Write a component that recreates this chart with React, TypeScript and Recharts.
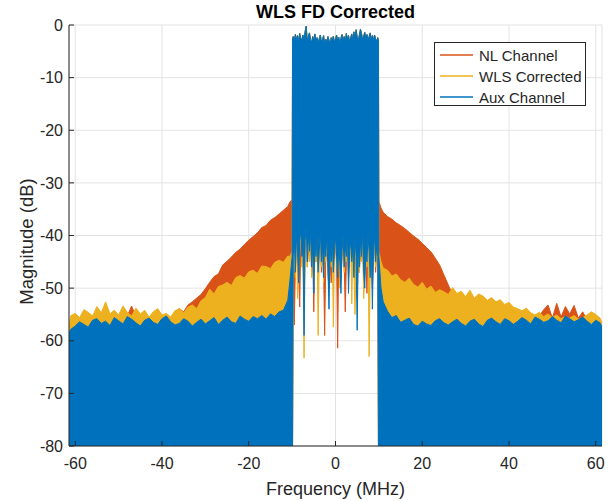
import { ComposedChart, Area, XAxis, YAxis, CartesianGrid } from "recharts";

const FONT = "'Liberation Sans', Arial, Helvetica, sans-serif";
const INK = "#262626";

// frequency grid (MHz): outer left, occupied band, outer right
const leftFreq = [
  -61.44, -61, -60,
  -59, -58, -57, -56, -55, -54, -53, -52, -51, -50,
  -49, -48, -47, -46, -45, -44, -43, -42, -41, -40,
  -39, -38, -37, -36, -35, -34, -33, -32, -31, -30,
  -29, -28, -27, -26, -25, -24, -23, -22, -21, -20,
  -19, -18, -17, -16, -15, -14, -13, -12, -11,
  -10.5, -10,
];

const bandFreq = [
  -9.9,
  -9.75, -9.5, -9.25, -9, -8.75, -8.5, -8.25, -8,
  -7.75, -7.5, -7.25, -7, -6.75, -6.5, -6.25, -6,
  -5.75, -5.5, -5.25, -5, -4.75, -4.5, -4.25, -4,
  -3.75, -3.5, -3.25, -3, -2.75, -2.5, -2.25, -2,
  -1.75, -1.5, -1.25, -1, -0.75, -0.5, -0.25, 0,
  0.25, 0.5, 0.75, 1, 1.25, 1.5, 1.75, 2,
  2.25, 2.5, 2.75, 3, 3.25, 3.5, 3.75, 4,
  4.25, 4.5, 4.75, 5, 5.25, 5.5, 5.75, 6,
  6.25, 6.5, 6.75, 7, 7.25, 7.5, 7.75, 8,
  8.25, 8.5, 8.75, 9, 9.25, 9.5, 9.75,
  9.9,
];

const rightFreq = [
  10, 10.5, 11,
  12, 13, 14, 15, 16, 17, 18, 19, 20, 21,
  22, 23, 24, 25, 26, 27, 28, 29, 30, 31,
  32, 33, 34, 35, 36, 37, 38, 39, 40, 41,
  42, 43, 44, 45, 46, 47, 48, 49, 50, 51,
  52, 53, 54, 55, 56, 57, 58, 59, 60, 61,
  61.44,
];

// peak magnitude (dB) outside the band
const nlLeft = [
  -58, -56.2, -55.8,
  -56.3, -55.1, -55.6, -56, -54.7, -55.4, -54.2, -55.7, -55.2, -55.9,
  -54.6, -55.3, -53.4, -55.5, -55.8, -54.9, -56.1, -55.2, -54, -55.4,
  -55.9, -56.2, -54.6, -53.9, -54.5, -53.2, -52.6, -51.9, -51.2, -50.1,
  -48.9, -47.8, -47.3, -45.6, -44.9, -44.1, -43.2, -42.6, -41.7, -40.9,
  -40.2, -39.5, -38.5, -38.1, -37.1, -36.6, -35.9, -35.2, -34.5,
  -33.6, -33.2,
];
const wlsLeft = [
  -57, -55.2, -54.8,
  -55.6, -54.1, -54.6, -55.3, -53.5, -54.7, -52.6, -54.9, -54.2, -55.1,
  -53.4, -54.6, -55.3, -53.8, -54.9, -54.2, -55.5, -54.5, -53.9, -55.1,
  -54.8, -55.5, -54.3, -53.9, -54.7, -53.6, -53.2, -53.9, -52.4, -51.8,
  -50.2, -51.1, -49.7, -49.4, -48.9, -49.5, -48, -47.6, -48.1, -46.9,
  -46.6, -47.2, -45.8, -45.9, -46.3, -45.1, -44.7, -45.1, -43.9,
  -44, -43,
];
const auxLeft = [
  -58.5, -57.8, -57.2,
  -56.4, -56.9, -57.4, -56.1, -55.8, -56.7, -56.3, -57.1, -55.6, -56.2,
  -56.8, -55.4, -55.9, -56.6, -57.2, -56.1, -55.7, -56.5, -56.9, -55.8,
  -55.3, -56.4, -57, -56.7, -55.8, -56.3, -57.2, -56.5, -55.9, -56.8,
  -56.2, -55.6, -56.9, -56.1, -55.5, -56.4, -56.7, -55.3, -55.9, -56.3,
  -55.4, -55.8, -55.2, -55.9, -54.9, -55.4, -54.5, -54.2, -52.3,
  -48.5, -44,
];

const nlRight = [
  -33.5, -34.8, -35.6,
  -36.4, -36.9, -37.6, -38.1, -38.7, -39.4, -40.1, -40.7, -41.5, -42.3,
  -43.1, -44.3, -45.6, -47.5, -49.4, -51.2, -52.1, -51.5, -52.6, -52.2,
  -52.5, -53.1, -52.7, -53.4, -53, -53.8, -53.5, -54.3, -53.9, -54.6,
  -55, -54.5, -55.4, -55.1, -55.7, -55.3, -54.1, -53.2, -55.7, -52.9,
  -55.5, -53.5, -54.9, -53.3, -55.7, -54.5, -56.1, -55.3, -56, -56.5,
  -57,
];
const wlsRight = [
  -43, -45, -46.2,
  -46.6, -47.7, -47.3, -48.4, -48.9, -48.1, -49.3, -49.8, -48.9, -50.2,
  -49.6, -50.8, -50.3, -50.7, -51.2, -49.9, -51, -50.6, -51.6, -50.4,
  -51.9, -51.1, -51.5, -52.3, -51.8, -52.6, -52.2, -53.1, -52.7, -53.6,
  -53.9, -54.3, -53.8, -54.7, -55.1, -54.6, -55.4, -54.9, -55.6, -55.1,
  -55.8, -55.4, -55.7, -55.2, -55.9, -55.6, -55.1, -54.5, -55, -55.7,
  -56.6,
];
const auxRight = [
  -44, -50, -52.6,
  -54.4, -55.6, -55.2, -56.5, -56.1, -55.7, -56.9, -57.2, -56.3, -56.8,
  -57.1, -56.2, -55.8, -56.6, -57, -56.4, -55.9, -56.7, -57.2, -56.3,
  -55.9, -56.8, -57.3, -56.1, -55.7, -56.4, -56.9, -55.8, -56.2, -56.9,
  -56.3, -55.6, -56.1, -56.8, -55.5, -55.9, -56.5, -56.2, -55.4, -56.1,
  -56.6, -55.3, -55.8, -56.4, -56, -55.5, -56.3, -56.9, -56.1, -56.6,
  -57.4,
];

// in-band: common peak, and the deepest trace reached by each channel
const bandTop = [
  -2.6,
  -2.2, -2.9, -1.8, -2.7, -2.0, -3.1, -1.6, -2.5,
  -2.9, -1.9, -2.8, -1.2, -0.2, -3.2, -2.1, -1.5,
  -2.8, -3.3, -2.2, -2.9, -1.7, -3.0, -2.4, -3.4,
  -2.6, -1.9, -3.1, -2.8, -2.0, -3.5, -2.7, -3.2,
  -2.2, -2.9, -3.6, -2.4, -3.0, -2.1, -3.3, -2.6,
  -1.9, -3.0, -2.3, -3.4, -2.5, -1.8, -2.9, -2.2,
  -3.1, -1.6, -2.7, -2.0, -3.2, -2.4, -1.7, -2.8,
  -1.3, -2.5, -0.9, -2.3, -3.0, -1.9, -0.8, -1.6,
  -2.8, -2.1, -1.4, -2.6, -1.8, -2.9, -2.2, -1.5,
  -2.7, -2.0, -2.9, -1.9, -2.6, -3.1, -2.4,
  -3.0,
];
const nlBandFloor = [
  -80,
  -45, -57, -46, -42, -44, -47, -53.6, -41,
  -45, -44, -50, -42, -40, -46, -43, -44,
  -41, -47, -44, -54.5, -42, -45, -43, -46,
  -44, -41, -47, -43, -46, -59, -45, -42,
  -47, -50, -44, -49, -42, -46, -44, -42,
  -45, -61.4, -43, -46, -48, -44, -42, -45,
  -54.5, -45, -41, -48, -44, -43, -46, -43,
  -47, -42, -45, -52, -44, -47, -43, -45,
  -41, -49, -46, -44, -51, -42, -44, -46,
  -43, -50, -44, -42, -47, -43, -45,
  -80,
];
const wlsBandFloor = [
  -80,
  -44, -43, -48, -41, -52, -46, -42, -40,
  -46, -43, -63.3, -42, -39, -46, -41, -45,
  -40, -48, -43, -49, -42, -45, -41, -59,
  -44, -40, -46, -43, -49, -42, -45, -41,
  -47, -48, -43, -46, -42, -57.4, -44, -41,
  -45, -47, -43, -50, -46, -44, -41, -47,
  -43, -45, -40, -46, -44, -42, -53, -43,
  -46, -55, -45, -50, -43, -47, -42, -45,
  -40, -52, -48, -43, -46, -41, -63, -47,
  -42, -49, -44, -41, -46, -43, -45,
  -80,
];
const auxBandFloor = [
  -80,
  -44, -41, -47, -40, -43, -49, -41, -39,
  -44, -42, -59, -41, -38, -45, -40, -43,
  -39, -46, -42, -51, -41, -44, -40, -47,
  -43, -39, -45, -42, -48, -41, -44, -40,
  -46, -54, -42, -45, -41, -47, -43, -40,
  -44, -48, -42, -45, -51, -43, -40, -46,
  -42, -44, -39, -51, -43, -41, -45, -42,
  -48, -40, -44, -58, -42, -46, -41, -44,
  -39, -47, -50, -42, -45, -40, -43, -48,
  -41, -54, -43, -40, -45, -42, -44,
  -80,
];

const xTicks = [-60, -40, -20, 0, 20, 40, 60];
const yTicks = [-80, -70, -60, -50, -40, -30, -20, -10, 0];
const X_DOMAIN: [number, number] = [-61.44, 61.44];
const Y_DOMAIN: [number, number] = [-80, 0];
const FLOOR = -80;

const series = [
  { key: "nl", name: "NL Channel", color: "#D95319" },
  { key: "wls", name: "WLS Corrected", color: "#EDB120" },
  { key: "aux", name: "Aux Channel", color: "#0072BD" },
];

const floorOut = (f: number[]) => f.map(() => FLOOR);
const freq = [...leftFreq, ...bandFreq, ...rightFreq];
const traces: Record<string, { low: number[]; high: number[] }> = {
  nl: {
    low: [...floorOut(leftFreq), ...nlBandFloor, ...floorOut(rightFreq)],
    high: [...nlLeft, ...bandTop, ...nlRight],
  },
  wls: {
    low: [...floorOut(leftFreq), ...wlsBandFloor, ...floorOut(rightFreq)],
    high: [...wlsLeft, ...bandTop, ...wlsRight],
  },
  aux: {
    low: [...floorOut(leftFreq), ...auxBandFloor, ...floorOut(rightFreq)],
    high: [...auxLeft, ...bandTop, ...auxRight],
  },
};

const data = freq.map((f, i) => {
  const row: Record<string, number | number[]> = { f };
  series.forEach((s) => {
    row[s.key] = [traces[s.key].low[i], traces[s.key].high[i]];
  });
  return row;
});

function LegendBox() {
  return (
    <div
      style={{
        position: "absolute",
        left: 434,
        top: 42,
        width: 150,
        height: 62,
        border: `1px solid ${INK}`,
        background: "#fff",
        fontFamily: FONT,
        fontSize: 15,
        color: INK,
      }}
    >
      {series.map((s, i) => (
        <div
          key={s.key}
          style={{
            position: "absolute",
            left: 0,
            top: 3 + i * 21,
            height: 18,
            display: "flex",
            alignItems: "center",
          }}
        >
          <div style={{ marginLeft: 5, width: 33, height: 2, background: s.color, opacity: 0.75 }} />
          <span style={{ marginLeft: 6, whiteSpace: "nowrap" }}>{s.name}</span>
        </div>
      ))}
    </div>
  );
}

export default function App() {
  const axisLine = { stroke: INK, strokeWidth: 1 };
  return (
    <div style={{ position: "absolute", left: 0, top: 0, width: 615, height: 501, background: "#fff" }}>
      <ComposedChart
        width={615}
        height={501}
        data={data}
        margin={{ top: 25, right: 13, left: 0, bottom: 0 }}
      >
        <CartesianGrid stroke="#e3e3e3" />
        {series.map((s) => (
          <Area
            key={s.key}
            dataKey={s.key}
            name={s.name}
            type="linear"
            stroke={s.color}
            strokeWidth={1}
            fill={s.color}
            fillOpacity={1}
            dot={false}
            activeDot={false}
            isAnimationActive={false}
          />
        ))}
        <XAxis
          dataKey="f"
          type="number"
          domain={X_DOMAIN}
          ticks={xTicks}
          interval={0}
          allowDataOverflow
          height={55}
          tickSize={-5}
          tickMargin={17}
          axisLine={axisLine}
          tickLine={axisLine}
          tick={{ fontSize: 16, fill: INK, fontFamily: FONT }}
        />
        <XAxis
          xAxisId="top"
          orientation="top"
          dataKey="f"
          type="number"
          domain={X_DOMAIN}
          ticks={xTicks}
          interval={0}
          allowDataOverflow
          height={0}
          tickSize={-5}
          axisLine={axisLine}
          tickLine={axisLine}
          tick={false}
        />
        <YAxis
          type="number"
          domain={Y_DOMAIN}
          ticks={yTicks}
          interval={0}
          allowDataOverflow
          width={69}
          tickSize={-5}
          tickMargin={11}
          axisLine={axisLine}
          tickLine={axisLine}
          tick={{ fontSize: 16, fill: INK, fontFamily: FONT }}
        />
        <YAxis
          yAxisId="right"
          orientation="right"
          type="number"
          domain={Y_DOMAIN}
          ticks={yTicks}
          interval={0}
          allowDataOverflow
          width={0}
          tickSize={-5}
          axisLine={axisLine}
          tickLine={axisLine}
          tick={false}
        />
      </ComposedChart>
      <svg
        width={615}
        height={501}
        style={{ position: "absolute", left: 0, top: 0, pointerEvents: "none" }}
        fontFamily={FONT}
        fill={INK}
      >
        <text x={335.5} y={17.5} textAnchor="middle" fontSize={18} fontWeight="bold" fill="#000">
          WLS FD Corrected
        </text>
        <text x={335.5} y={495} textAnchor="middle" fontSize={18}>
          Frequency (MHz)
        </text>
        <text transform="translate(32.5,241.5) rotate(-90)" textAnchor="middle" fontSize={18.5}>
          Magnitude (dB)
        </text>
      </svg>
      <LegendBox />
    </div>
  );
}
